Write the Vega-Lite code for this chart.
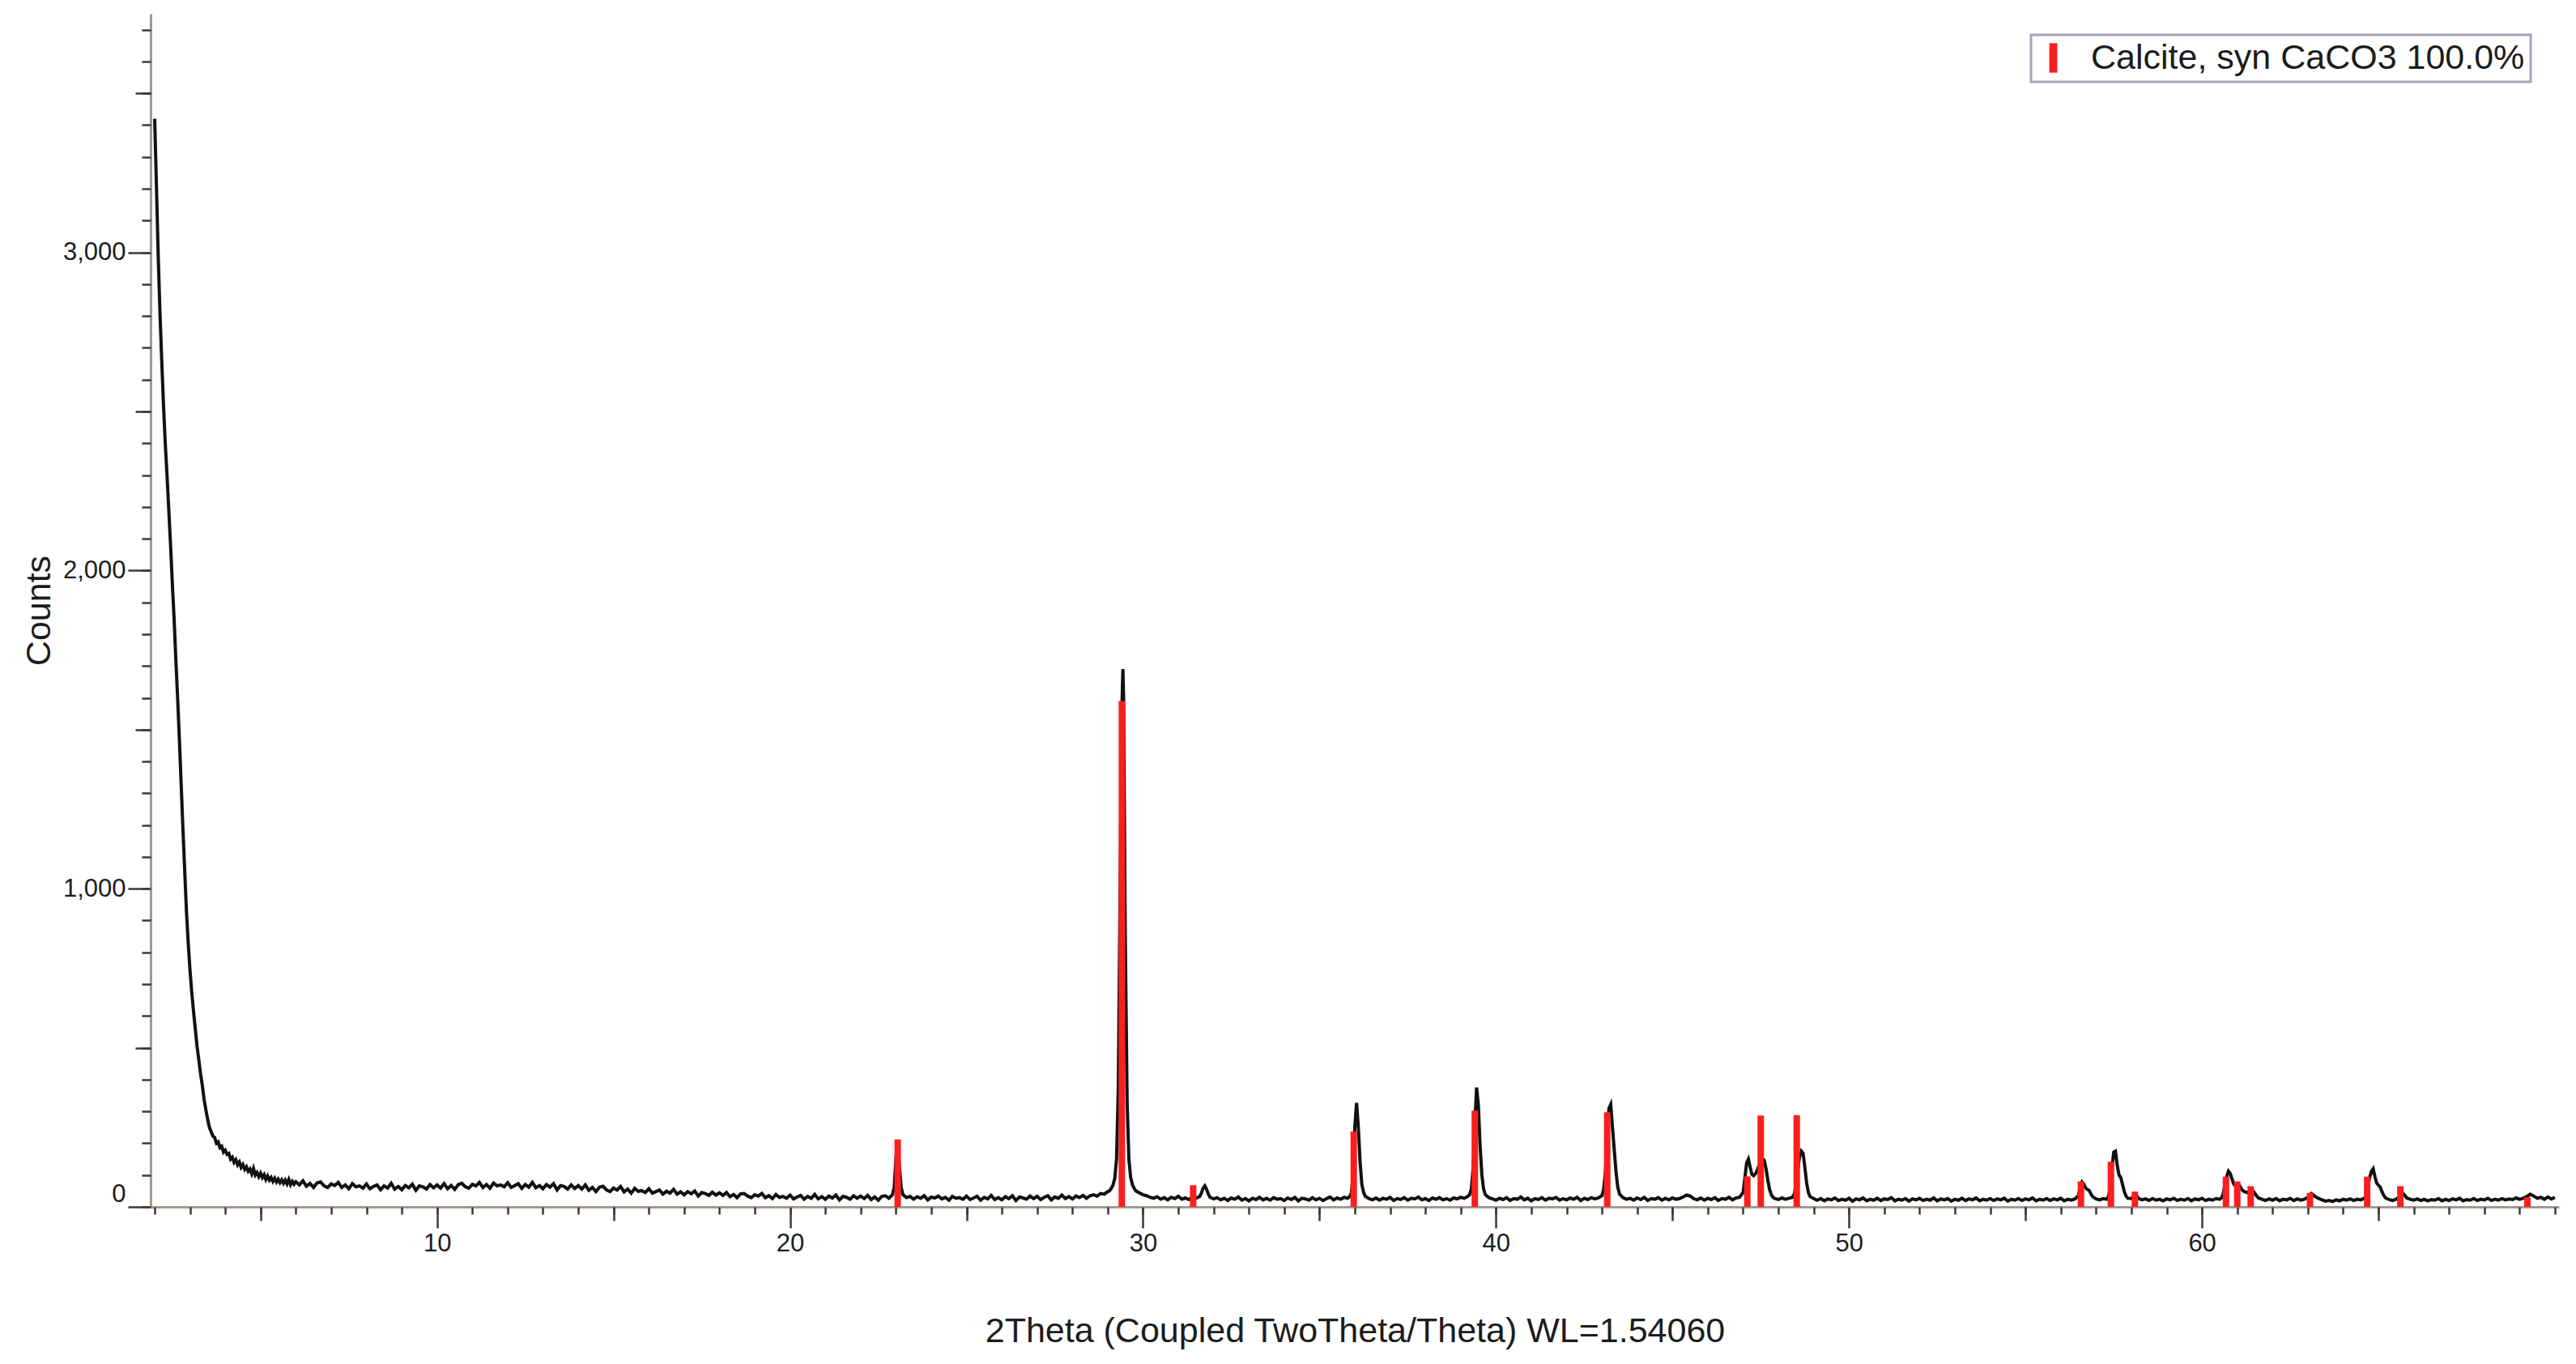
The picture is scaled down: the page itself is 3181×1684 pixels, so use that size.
{
"$schema": "https://vega.github.io/schema/vega-lite/v6.json",
"width": 2974,
"height": 1473,
"autosize": {"type": "none"},
"padding": {"left": 186, "top": 17, "right": 21, "bottom": 194},
"background": "#ffffff",
"config": {
  "view": {"stroke": null},
  "font": "Liberation Sans",
  "axis": {"grid": false, "labelFont": "Liberation Sans", "titleFont": "Liberation Sans", "tickColor": "#3a3a3a", "tickWidth": 2.5, "domainColor": "#a59791", "domainWidth": 3, "labelColor": "#1c1c1c", "titleColor": "#1c1c1c", "titleFontWeight": "normal"},
  "legend": {"labelFont": "Liberation Sans", "strokeWidth": 3}
},
"datasets": {
"scan": [
{"two_theta":2.0,"counts":3420},{"two_theta":2.05,"counts":3210},{"two_theta":2.1,"counts":2990},{"two_theta":2.15,"counts":2810},{"two_theta":2.2,"counts":2660},{"two_theta":2.25,"counts":2520},{"two_theta":2.3,"counts":2400},{"two_theta":2.35,"counts":2300},{"two_theta":2.4,"counts":2190},{"two_theta":2.45,"counts":2080},{"two_theta":2.5,"counts":1960},{"two_theta":2.55,"counts":1850},{"two_theta":2.6,"counts":1720},{"two_theta":2.65,"counts":1600},{"two_theta":2.7,"counts":1470},{"two_theta":2.75,"counts":1330},{"two_theta":2.8,"counts":1190},{"two_theta":2.85,"counts":1060},{"two_theta":2.9,"counts":930},{"two_theta":2.95,"counts":830},{"two_theta":3.0,"counts":745},{"two_theta":3.05,"counts":675},{"two_theta":3.1,"counts":615},{"two_theta":3.15,"counts":560},{"two_theta":3.2,"counts":505},{"two_theta":3.25,"counts":462},{"two_theta":3.3,"counts":418},{"two_theta":3.35,"counts":382},{"two_theta":3.4,"counts":338},{"two_theta":3.45,"counts":305},{"two_theta":3.5,"counts":276},{"two_theta":3.55,"counts":250},{"two_theta":3.6,"counts":236},
{"two_theta":3.65,"counts":222},{"two_theta":3.7,"counts":218},{"two_theta":3.75,"counts":200},{"two_theta":3.8,"counts":204},{"two_theta":3.85,"counts":186},{"two_theta":3.9,"counts":190},{"two_theta":3.95,"counts":172},{"two_theta":4.0,"counts":178},{"two_theta":4.05,"counts":165},{"two_theta":4.1,"counts":168},{"two_theta":4.15,"counts":150},{"two_theta":4.2,"counts":156},{"two_theta":4.25,"counts":140},{"two_theta":4.3,"counts":148},{"two_theta":4.35,"counts":132},{"two_theta":4.4,"counts":141},{"two_theta":4.45,"counts":124},{"two_theta":4.5,"counts":133},{"two_theta":4.55,"counts":118},{"two_theta":4.6,"counts":126},{"two_theta":4.65,"counts":112},{"two_theta":4.7,"counts":119},{"two_theta":4.75,"counts":104},{"two_theta":4.8,"counts":121},{"two_theta":4.85,"counts":100},{"two_theta":4.9,"counts":108},{"two_theta":4.95,"counts":95},{"two_theta":5.0,"counts":106},{"two_theta":5.05,"counts":92},{"two_theta":5.1,"counts":101},{"two_theta":5.15,"counts":86},{"two_theta":5.2,"counts":97},{"two_theta":5.25,"counts":84},{"two_theta":5.3,"counts":92},{"two_theta":5.35,"counts":80},{"two_theta":5.4,"counts":90},{"two_theta":5.45,"counts":78},{"two_theta":5.5,"counts":87},{"two_theta":5.55,"counts":76},{"two_theta":5.6,"counts":85},{"two_theta":5.65,"counts":74},{"two_theta":5.7,"counts":84},{"two_theta":5.75,"counts":72},{"two_theta":5.8,"counts":86},{"two_theta":5.85,"counts":70},{"two_theta":5.9,"counts":80},{"two_theta":5.95,"counts":71},{"two_theta":6.0,"counts":79},
{"two_theta":6.1,"counts":69},{"two_theta":6.2,"counts":82},{"two_theta":6.3,"counts":65},{"two_theta":6.4,"counts":74},{"two_theta":6.5,"counts":61},{"two_theta":6.6,"counts":75},{"two_theta":6.7,"counts":78},{"two_theta":6.8,"counts":66},{"two_theta":6.9,"counts":61},{"two_theta":7.0,"counts":72},{"two_theta":7.1,"counts":67},{"two_theta":7.2,"counts":77},{"two_theta":7.3,"counts":61},{"two_theta":7.4,"counts":69},{"two_theta":7.5,"counts":57},{"two_theta":7.6,"counts":73},{"two_theta":7.7,"counts":63},{"two_theta":7.8,"counts":66},{"two_theta":7.9,"counts":59},{"two_theta":8.0,"counts":72},{"two_theta":8.1,"counts":57},{"two_theta":8.2,"counts":64},{"two_theta":8.3,"counts":69},{"two_theta":8.4,"counts":54},{"two_theta":8.5,"counts":66},{"two_theta":8.6,"counts":59},{"two_theta":8.7,"counts":74},{"two_theta":8.8,"counts":56},{"two_theta":8.9,"counts":64},{"two_theta":9.0,"counts":54},{"two_theta":9.1,"counts":67},{"two_theta":9.2,"counts":60},{"two_theta":9.3,"counts":71},{"two_theta":9.4,"counts":52},{"two_theta":9.5,"counts":66},{"two_theta":9.6,"counts":63},{"two_theta":9.7,"counts":56},{"two_theta":9.8,"counts":70},{"two_theta":9.9,"counts":60},{"two_theta":10.0,"counts":69},{"two_theta":10.1,"counts":59},{"two_theta":10.2,"counts":73},{"two_theta":10.3,"counts":57},{"two_theta":10.4,"counts":67},{"two_theta":10.5,"counts":55},{"two_theta":10.6,"counts":70},{"two_theta":10.7,"counts":74},{"two_theta":10.8,"counts":63},{"two_theta":10.9,"counts":59},{"two_theta":11.0,"counts":71},{"two_theta":11.1,"counts":66},{"two_theta":11.2,"counts":77},{"two_theta":11.3,"counts":61},{"two_theta":11.4,"counts":70},{"two_theta":11.5,"counts":59},{"two_theta":11.6,"counts":75},{"two_theta":11.7,"counts":66},{"two_theta":11.8,"counts":69},{"two_theta":11.9,"counts":63},{"two_theta":12.0,"counts":76},{"two_theta":12.1,"counts":61},{"two_theta":12.2,"counts":67},{"two_theta":12.3,"counts":73},{"two_theta":12.4,"counts":58},{"two_theta":12.5,"counts":70},{"two_theta":12.6,"counts":62},{"two_theta":12.7,"counts":77},{"two_theta":12.8,"counts":60},{"two_theta":12.9,"counts":67},{"two_theta":13.0,"counts":57},{"two_theta":13.1,"counts":70},{"two_theta":13.2,"counts":62},{"two_theta":13.3,"counts":73},{"two_theta":13.4,"counts":53},{"two_theta":13.5,"counts":67},{"two_theta":13.6,"counts":64},{"two_theta":13.7,"counts":56},{"two_theta":13.8,"counts":69},{"two_theta":13.9,"counts":58},{"two_theta":14.0,"counts":67},{"two_theta":14.1,"counts":56},{"two_theta":14.2,"counts":69},{"two_theta":14.3,"counts":52},{"two_theta":14.4,"counts":61},{"two_theta":14.5,"counts":48},{"two_theta":14.6,"counts":62},{"two_theta":14.7,"counts":65},{"two_theta":14.8,"counts":53},{"two_theta":14.9,"counts":48},{"two_theta":15.0,"counts":59},{"two_theta":15.1,"counts":53},{"two_theta":15.2,"counts":64},{"two_theta":15.3,"counts":47},{"two_theta":15.4,"counts":56},{"two_theta":15.5,"counts":43},{"two_theta":15.6,"counts":58},{"two_theta":15.7,"counts":49},{"two_theta":15.8,"counts":51},{"two_theta":15.9,"counts":45},{"two_theta":16.0,"counts":57},
{"two_theta":16.1,"counts":43},{"two_theta":16.2,"counts":48},{"two_theta":16.3,"counts":53},{"two_theta":16.4,"counts":40},{"two_theta":16.5,"counts":49},{"two_theta":16.6,"counts":43},{"two_theta":16.7,"counts":55},{"two_theta":16.8,"counts":40},{"two_theta":16.9,"counts":47},{"two_theta":17.0,"counts":38},{"two_theta":17.1,"counts":48},{"two_theta":17.2,"counts":41},{"two_theta":17.3,"counts":50},{"two_theta":17.4,"counts":34},{"two_theta":17.5,"counts":45},{"two_theta":17.6,"counts":42},{"two_theta":17.7,"counts":36},{"two_theta":17.8,"counts":46},{"two_theta":17.9,"counts":37},{"two_theta":18.0,"counts":44},{"two_theta":18.1,"counts":36},{"two_theta":18.2,"counts":45},{"two_theta":18.3,"counts":32},{"two_theta":18.4,"counts":39},{"two_theta":18.5,"counts":29},{"two_theta":18.6,"counts":41},{"two_theta":18.7,"counts":42},{"two_theta":18.8,"counts":34},{"two_theta":18.9,"counts":29},{"two_theta":19.0,"counts":38},{"two_theta":19.1,"counts":34},{"two_theta":19.2,"counts":42},{"two_theta":19.3,"counts":29},{"two_theta":19.4,"counts":35},{"two_theta":19.5,"counts":26},{"two_theta":19.6,"counts":39},{"two_theta":19.7,"counts":30},{"two_theta":19.8,"counts":33},{"two_theta":19.9,"counts":27},{"two_theta":20.0,"counts":37},{"two_theta":20.1,"counts":25},{"two_theta":20.2,"counts":31},{"two_theta":20.3,"counts":36},{"two_theta":20.4,"counts":24},{"two_theta":20.5,"counts":33},{"two_theta":20.6,"counts":27},{"two_theta":20.7,"counts":39},{"two_theta":20.8,"counts":25},{"two_theta":20.9,"counts":32},{"two_theta":21.0,"counts":24},{"two_theta":21.1,"counts":34},{"two_theta":21.2,"counts":28},{"two_theta":21.3,"counts":37},{"two_theta":21.4,"counts":22},{"two_theta":21.5,"counts":33},{"two_theta":21.6,"counts":30},{"two_theta":21.7,"counts":24},{"two_theta":21.8,"counts":35},{"two_theta":21.9,"counts":27},{"two_theta":22.0,"counts":34},{"two_theta":22.1,"counts":26},{"two_theta":22.2,"counts":36},{"two_theta":22.3,"counts":23},{"two_theta":22.4,"counts":31},{"two_theta":22.5,"counts":21},{"two_theta":22.6,"counts":33},{"two_theta":22.7,"counts":35},{"two_theta":22.8,"counts":27},
{"two_theta":22.9,"counts":38},{"two_theta":22.95,"counts":60},{"two_theta":23.0,"counts":150},{"two_theta":23.05,"counts":205},{"two_theta":23.1,"counts":125},{"two_theta":23.15,"counts":60},{"two_theta":23.2,"counts":38},{"two_theta":23.3,"counts":29},{"two_theta":23.4,"counts":33},
{"two_theta":23.5,"counts":24},{"two_theta":23.6,"counts":32},{"two_theta":23.7,"counts":27},{"two_theta":23.8,"counts":35},{"two_theta":23.9,"counts":22},{"two_theta":24.0,"counts":31},{"two_theta":24.1,"counts":28},{"two_theta":24.2,"counts":34},{"two_theta":24.3,"counts":25},{"two_theta":24.4,"counts":30},{"two_theta":24.5,"counts":21},{"two_theta":24.6,"counts":33},{"two_theta":24.7,"counts":27},{"two_theta":24.8,"counts":29},{"two_theta":24.9,"counts":24},{"two_theta":25.0,"counts":34},{"two_theta":25.1,"counts":23},{"two_theta":25.2,"counts":28},{"two_theta":25.3,"counts":33},{"two_theta":25.4,"counts":21},{"two_theta":25.5,"counts":30},{"two_theta":25.6,"counts":25},{"two_theta":25.7,"counts":36},{"two_theta":25.8,"counts":23},{"two_theta":25.9,"counts":29},{"two_theta":26.0,"counts":22},{"two_theta":26.1,"counts":32},{"two_theta":26.2,"counts":26},{"two_theta":26.3,"counts":35},{"two_theta":26.4,"counts":20},{"two_theta":26.5,"counts":31},{"two_theta":26.6,"counts":28},{"two_theta":26.7,"counts":24},{"two_theta":26.8,"counts":34},{"two_theta":26.9,"counts":26},{"two_theta":27.0,"counts":33},{"two_theta":27.1,"counts":23},{"two_theta":27.2,"counts":30},{"two_theta":27.3,"counts":35},{"two_theta":27.4,"counts":22},{"two_theta":27.5,"counts":31},{"two_theta":27.6,"counts":27},{"two_theta":27.7,"counts":37},{"two_theta":27.8,"counts":26},{"two_theta":27.9,"counts":32},{"two_theta":28.0,"counts":25},{"two_theta":28.1,"counts":34},{"two_theta":28.2,"counts":29},{"two_theta":28.3,"counts":36},{"two_theta":28.4,"counts":27},{"two_theta":28.5,"counts":35},
{"two_theta":28.6,"counts":38},{"two_theta":28.7,"counts":34},{"two_theta":28.8,"counts":42},{"two_theta":28.9,"counts":40},{"two_theta":29.0,"counts":48},{"two_theta":29.05,"counts":50},{"two_theta":29.1,"counts":58},{"two_theta":29.15,"counts":68},{"two_theta":29.2,"counts":90},{"two_theta":29.25,"counts":150},{"two_theta":29.3,"counts":380},{"two_theta":29.35,"counts":980},{"two_theta":29.4,"counts":1560},{"two_theta":29.43,"counts":1690},{"two_theta":29.45,"counts":1600},{"two_theta":29.5,"counts":820},{"two_theta":29.55,"counts":330},{"two_theta":29.6,"counts":150},{"two_theta":29.65,"counts":92},{"two_theta":29.7,"counts":70},{"two_theta":29.75,"counts":58},{"two_theta":29.8,"counts":50},{"two_theta":29.9,"counts":44},{"two_theta":30.0,"counts":38},{"two_theta":30.1,"counts":35},{"two_theta":30.2,"counts":30},
{"two_theta":30.3,"counts":27},{"two_theta":30.4,"counts":32},{"two_theta":30.5,"counts":24},{"two_theta":30.6,"counts":29},{"two_theta":30.7,"counts":22},{"two_theta":30.8,"counts":30},{"two_theta":30.9,"counts":26},{"two_theta":31.0,"counts":33},{"two_theta":31.1,"counts":24},{"two_theta":31.2,"counts":28},{"two_theta":31.3,"counts":23},{"two_theta":31.4,"counts":30},{"two_theta":31.5,"counts":27},{"two_theta":31.6,"counts":32},{"two_theta":31.65,"counts":42},{"two_theta":31.7,"counts":58},{"two_theta":31.75,"counts":66},{"two_theta":31.8,"counts":56},{"two_theta":31.85,"counts":40},{"two_theta":31.9,"counts":30},{"two_theta":32.0,"counts":25},
{"two_theta":32.1,"counts":29},{"two_theta":32.2,"counts":22},{"two_theta":32.3,"counts":27},{"two_theta":32.4,"counts":20},{"two_theta":32.5,"counts":28},{"two_theta":32.6,"counts":24},{"two_theta":32.7,"counts":31},{"two_theta":32.8,"counts":21},{"two_theta":32.9,"counts":26},{"two_theta":33.0,"counts":19},{"two_theta":33.1,"counts":27},{"two_theta":33.2,"counts":23},{"two_theta":33.3,"counts":30},{"two_theta":33.4,"counts":22},{"two_theta":33.5,"counts":27},{"two_theta":33.6,"counts":21},{"two_theta":33.7,"counts":29},{"two_theta":33.8,"counts":24},{"two_theta":33.9,"counts":26},{"two_theta":34.0,"counts":20},{"two_theta":34.1,"counts":28},{"two_theta":34.2,"counts":23},{"two_theta":34.3,"counts":30},{"two_theta":34.4,"counts":19},{"two_theta":34.5,"counts":27},{"two_theta":34.6,"counts":25},{"two_theta":34.7,"counts":21},{"two_theta":34.8,"counts":29},{"two_theta":34.9,"counts":22},{"two_theta":35.0,"counts":27},{"two_theta":35.1,"counts":20},{"two_theta":35.2,"counts":26},{"two_theta":35.3,"counts":31},{"two_theta":35.4,"counts":22},{"two_theta":35.5,"counts":28},{"two_theta":35.6,"counts":24},{"two_theta":35.7,"counts":30},{"two_theta":35.8,"counts":27},{"two_theta":35.85,"counts":32},{"two_theta":35.9,"counts":42},{"two_theta":35.95,"counts":95},{"two_theta":36.0,"counts":250},{"two_theta":36.05,"counts":327},{"two_theta":36.1,"counts":250},{"two_theta":36.15,"counts":140},{"two_theta":36.2,"counts":70},{"two_theta":36.25,"counts":45},{"two_theta":36.3,"counts":33},{"two_theta":36.4,"counts":26},
{"two_theta":36.5,"counts":22},{"two_theta":36.6,"counts":28},{"two_theta":36.7,"counts":21},{"two_theta":36.8,"counts":27},{"two_theta":36.9,"counts":24},{"two_theta":37.0,"counts":30},{"two_theta":37.1,"counts":20},{"two_theta":37.2,"counts":26},{"two_theta":37.3,"counts":23},{"two_theta":37.4,"counts":29},{"two_theta":37.5,"counts":21},{"two_theta":37.6,"counts":27},{"two_theta":37.7,"counts":25},{"two_theta":37.8,"counts":31},{"two_theta":37.9,"counts":22},{"two_theta":38.0,"counts":26},{"two_theta":38.1,"counts":20},{"two_theta":38.2,"counts":28},{"two_theta":38.3,"counts":24},{"two_theta":38.4,"counts":29},{"two_theta":38.5,"counts":22},{"two_theta":38.6,"counts":26},{"two_theta":38.7,"counts":21},{"two_theta":38.8,"counts":28},{"two_theta":38.9,"counts":25},{"two_theta":39.0,"counts":30},{"two_theta":39.1,"counts":27},{"two_theta":39.2,"counts":33},{"two_theta":39.25,"counts":38},{"two_theta":39.3,"counts":55},{"two_theta":39.35,"counts":120},{"two_theta":39.4,"counts":260},{"two_theta":39.45,"counts":375},{"two_theta":39.5,"counts":320},{"two_theta":39.55,"counts":190},{"two_theta":39.6,"counts":100},{"two_theta":39.65,"counts":55},{"two_theta":39.7,"counts":38},{"two_theta":39.8,"counts":29},{"two_theta":39.9,"counts":25},
{"two_theta":40.0,"counts":21},{"two_theta":40.1,"counts":27},{"two_theta":40.2,"counts":23},{"two_theta":40.3,"counts":29},{"two_theta":40.4,"counts":20},{"two_theta":40.5,"counts":26},{"two_theta":40.6,"counts":24},{"two_theta":40.7,"counts":31},{"two_theta":40.8,"counts":22},{"two_theta":40.9,"counts":27},{"two_theta":41.0,"counts":19},{"two_theta":41.1,"counts":26},{"two_theta":41.2,"counts":23},{"two_theta":41.3,"counts":29},{"two_theta":41.4,"counts":21},{"two_theta":41.5,"counts":27},{"two_theta":41.6,"counts":25},{"two_theta":41.7,"counts":30},{"two_theta":41.8,"counts":21},{"two_theta":41.9,"counts":26},{"two_theta":42.0,"counts":22},{"two_theta":42.1,"counts":28},{"two_theta":42.2,"counts":24},{"two_theta":42.3,"counts":30},{"two_theta":42.4,"counts":20},{"two_theta":42.5,"counts":27},{"two_theta":42.6,"counts":23},{"two_theta":42.7,"counts":29},{"two_theta":42.8,"counts":25},{"two_theta":42.9,"counts":28},{"two_theta":43.0,"counts":35},{"two_theta":43.05,"counts":55},{"two_theta":43.1,"counts":110},{"two_theta":43.15,"counts":220},{"two_theta":43.2,"counts":310},{"two_theta":43.25,"counts":322},{"two_theta":43.3,"counts":250},{"two_theta":43.35,"counts":180},{"two_theta":43.4,"counts":110},{"two_theta":43.45,"counts":62},{"two_theta":43.5,"counts":40},{"two_theta":43.6,"counts":29},{"two_theta":43.7,"counts":24},
{"two_theta":43.8,"counts":27},{"two_theta":43.9,"counts":21},{"two_theta":44.0,"counts":28},{"two_theta":44.1,"counts":23},{"two_theta":44.2,"counts":30},{"two_theta":44.3,"counts":20},{"two_theta":44.4,"counts":26},{"two_theta":44.5,"counts":24},{"two_theta":44.6,"counts":29},{"two_theta":44.7,"counts":21},{"two_theta":44.8,"counts":27},{"two_theta":44.9,"counts":22},{"two_theta":45.0,"counts":28},{"two_theta":45.1,"counts":24},{"two_theta":45.2,"counts":26},{"two_theta":45.3,"counts":31},{"two_theta":45.4,"counts":37},{"two_theta":45.5,"counts":34},{"two_theta":45.6,"counts":26},{"two_theta":45.7,"counts":22},{"two_theta":45.8,"counts":28},{"two_theta":45.9,"counts":21},{"two_theta":46.0,"counts":27},{"two_theta":46.1,"counts":23},{"two_theta":46.2,"counts":29},{"two_theta":46.3,"counts":20},{"two_theta":46.4,"counts":26},{"two_theta":46.5,"counts":24},{"two_theta":46.6,"counts":30},{"two_theta":46.7,"counts":22},{"two_theta":46.8,"counts":28},{"two_theta":46.9,"counts":30},{"two_theta":47.0,"counts":45},{"two_theta":47.05,"counts":90},{"two_theta":47.1,"counts":138},{"two_theta":47.15,"counts":150},{"two_theta":47.2,"counts":125},{"two_theta":47.25,"counts":102},{"two_theta":47.3,"counts":98},{"two_theta":47.35,"counts":104},{"two_theta":47.4,"counts":115},{"two_theta":47.45,"counts":130},{"two_theta":47.5,"counts":144},{"two_theta":47.55,"counts":152},{"two_theta":47.6,"counts":146},{"two_theta":47.65,"counts":120},{"two_theta":47.7,"counts":85},{"two_theta":47.75,"counts":55},{"two_theta":47.8,"counts":38},{"two_theta":47.85,"counts":30},{"two_theta":47.9,"counts":26},{"two_theta":48.0,"counts":23},{"two_theta":48.1,"counts":28},{"two_theta":48.2,"counts":24},{"two_theta":48.3,"counts":27},{"two_theta":48.4,"counts":30},{"two_theta":48.45,"counts":40},{"two_theta":48.5,"counts":70},{"two_theta":48.55,"counts":118},{"two_theta":48.6,"counts":158},{"two_theta":48.65,"counts":175},{"two_theta":48.7,"counts":168},{"two_theta":48.75,"counts":125},{"two_theta":48.8,"counts":75},{"two_theta":48.85,"counts":45},{"two_theta":48.9,"counts":32},{"two_theta":49.0,"counts":26},
{"two_theta":49.1,"counts":21},{"two_theta":49.2,"counts":26},{"two_theta":49.3,"counts":19},{"two_theta":49.4,"counts":25},{"two_theta":49.5,"counts":22},{"two_theta":49.6,"counts":28},{"two_theta":49.7,"counts":20},{"two_theta":49.8,"counts":24},{"two_theta":49.9,"counts":21},{"two_theta":50.0,"counts":27},{"two_theta":50.1,"counts":18},{"two_theta":50.2,"counts":25},{"two_theta":50.3,"counts":22},{"two_theta":50.4,"counts":28},{"two_theta":50.5,"counts":19},{"two_theta":50.6,"counts":24},{"two_theta":50.7,"counts":21},{"two_theta":50.8,"counts":27},{"two_theta":50.9,"counts":20},{"two_theta":51.0,"counts":25},{"two_theta":51.1,"counts":23},{"two_theta":51.2,"counts":29},{"two_theta":51.3,"counts":19},{"two_theta":51.4,"counts":24},{"two_theta":51.5,"counts":21},{"two_theta":51.6,"counts":26},{"two_theta":51.7,"counts":18},{"two_theta":51.8,"counts":25},{"two_theta":51.9,"counts":22},{"two_theta":52.0,"counts":27},{"two_theta":52.1,"counts":20},{"two_theta":52.2,"counts":24},{"two_theta":52.3,"counts":21},{"two_theta":52.4,"counts":28},{"two_theta":52.5,"counts":19},{"two_theta":52.6,"counts":25},{"two_theta":52.7,"counts":22},{"two_theta":52.8,"counts":26},{"two_theta":52.9,"counts":18},{"two_theta":53.0,"counts":24},{"two_theta":53.1,"counts":21},{"two_theta":53.2,"counts":27},{"two_theta":53.3,"counts":20},{"two_theta":53.4,"counts":25},{"two_theta":53.5,"counts":22},{"two_theta":53.6,"counts":28},{"two_theta":53.7,"counts":19},{"two_theta":53.8,"counts":24},{"two_theta":53.9,"counts":21},{"two_theta":54.0,"counts":26},{"two_theta":54.1,"counts":20},{"two_theta":54.2,"counts":25},{"two_theta":54.3,"counts":22},{"two_theta":54.4,"counts":27},{"two_theta":54.5,"counts":18},{"two_theta":54.6,"counts":24},{"two_theta":54.7,"counts":21},{"two_theta":54.8,"counts":26},{"two_theta":54.9,"counts":20},{"two_theta":55.0,"counts":25},{"two_theta":55.1,"counts":22},{"two_theta":55.2,"counts":28},{"two_theta":55.3,"counts":19},{"two_theta":55.4,"counts":24},{"two_theta":55.5,"counts":21},{"two_theta":55.6,"counts":26},{"two_theta":55.7,"counts":20},{"two_theta":55.8,"counts":25},{"two_theta":55.9,"counts":22},{"two_theta":56.0,"counts":27},{"two_theta":56.1,"counts":19},{"two_theta":56.2,"counts":24},{"two_theta":56.3,"counts":21},{"two_theta":56.4,"counts":25},{"two_theta":56.5,"counts":35},{"two_theta":56.55,"counts":62},{"two_theta":56.6,"counts":78},{"two_theta":56.65,"counts":72},{"two_theta":56.7,"counts":60},{"two_theta":56.75,"counts":55},{"two_theta":56.8,"counts":52},{"two_theta":56.85,"counts":42},{"two_theta":56.9,"counts":32},{"two_theta":57.0,"counts":25},{"two_theta":57.1,"counts":22},{"two_theta":57.2,"counts":26},{"two_theta":57.3,"counts":24},{"two_theta":57.35,"counts":32},{"two_theta":57.4,"counts":60},{"two_theta":57.45,"counts":120},{"two_theta":57.5,"counts":172},{"two_theta":57.55,"counts":175},{"two_theta":57.6,"counts":130},{"two_theta":57.65,"counts":100},{"two_theta":57.7,"counts":92},{"two_theta":57.75,"counts":70},{"two_theta":57.8,"counts":48},{"two_theta":57.85,"counts":34},{"two_theta":57.9,"counts":27},{"two_theta":58.0,"counts":26},{"two_theta":58.05,"counts":32},{"two_theta":58.1,"counts":40},{"two_theta":58.15,"counts":36},{"two_theta":58.2,"counts":27},{"two_theta":58.3,"counts":22},
{"two_theta":58.4,"counts":25},{"two_theta":58.5,"counts":20},{"two_theta":58.6,"counts":26},{"two_theta":58.7,"counts":21},{"two_theta":58.8,"counts":24},{"two_theta":58.9,"counts":19},{"two_theta":59.0,"counts":25},{"two_theta":59.1,"counts":22},{"two_theta":59.2,"counts":27},{"two_theta":59.3,"counts":20},{"two_theta":59.4,"counts":24},{"two_theta":59.5,"counts":21},{"two_theta":59.6,"counts":26},{"two_theta":59.7,"counts":19},{"two_theta":59.8,"counts":25},{"two_theta":59.9,"counts":22},{"two_theta":60.0,"counts":27},{"two_theta":60.1,"counts":20},{"two_theta":60.2,"counts":24},{"two_theta":60.3,"counts":21},{"two_theta":60.4,"counts":26},{"two_theta":60.5,"counts":24},{"two_theta":60.55,"counts":28},{"two_theta":60.6,"counts":40},{"two_theta":60.65,"counts":70},{"two_theta":60.7,"counts":95},{"two_theta":60.75,"counts":112},{"two_theta":60.8,"counts":105},{"two_theta":60.85,"counts":88},{"two_theta":60.9,"counts":72},{"two_theta":60.95,"counts":66},{"two_theta":61.0,"counts":68},{"two_theta":61.05,"counts":70},{"two_theta":61.1,"counts":60},{"two_theta":61.15,"counts":52},{"two_theta":61.2,"counts":48},{"two_theta":61.25,"counts":46},{"two_theta":61.3,"counts":44},{"two_theta":61.35,"counts":48},{"two_theta":61.4,"counts":52},{"two_theta":61.45,"counts":50},{"two_theta":61.5,"counts":42},{"two_theta":61.55,"counts":34},{"two_theta":61.6,"counts":28},{"two_theta":61.7,"counts":24},{"two_theta":61.8,"counts":20},
{"two_theta":61.9,"counts":25},{"two_theta":62.0,"counts":21},{"two_theta":62.1,"counts":26},{"two_theta":62.2,"counts":19},{"two_theta":62.3,"counts":24},{"two_theta":62.4,"counts":22},{"two_theta":62.5,"counts":27},{"two_theta":62.6,"counts":20},{"two_theta":62.7,"counts":25},{"two_theta":62.8,"counts":21},{"two_theta":62.9,"counts":24},{"two_theta":63.0,"counts":30},{"two_theta":63.05,"counts":38},{"two_theta":63.1,"counts":42},{"two_theta":63.15,"counts":38},{"two_theta":63.2,"counts":33},{"two_theta":63.3,"counts":27},{"two_theta":63.4,"counts":22},{"two_theta":63.5,"counts":18},{"two_theta":63.6,"counts":20},{"two_theta":63.7,"counts":17},{"two_theta":63.8,"counts":22},{"two_theta":63.9,"counts":19},{"two_theta":64.0,"counts":24},{"two_theta":64.1,"counts":21},{"two_theta":64.2,"counts":25},{"two_theta":64.3,"counts":20},{"two_theta":64.4,"counts":24},{"two_theta":64.5,"counts":22},{"two_theta":64.6,"counts":27},{"two_theta":64.65,"counts":35},{"two_theta":64.7,"counts":62},{"two_theta":64.75,"counts":92},{"two_theta":64.8,"counts":112},{"two_theta":64.85,"counts":120},{"two_theta":64.9,"counts":95},{"two_theta":64.95,"counts":75},{"two_theta":65.0,"counts":68},{"two_theta":65.05,"counts":62},{"two_theta":65.1,"counts":48},{"two_theta":65.15,"counts":36},{"two_theta":65.2,"counts":28},{"two_theta":65.3,"counts":23},{"two_theta":65.4,"counts":20},{"two_theta":65.5,"counts":24},{"two_theta":65.6,"counts":32},{"two_theta":65.65,"counts":40},{"two_theta":65.7,"counts":42},{"two_theta":65.75,"counts":36},{"two_theta":65.8,"counts":28},{"two_theta":65.9,"counts":24},
{"two_theta":66.0,"counts":21},{"two_theta":66.1,"counts":25},{"two_theta":66.2,"counts":20},{"two_theta":66.3,"counts":24},{"two_theta":66.4,"counts":19},{"two_theta":66.5,"counts":23},{"two_theta":66.6,"counts":21},{"two_theta":66.7,"counts":26},{"two_theta":66.8,"counts":19},{"two_theta":66.9,"counts":24},{"two_theta":67.0,"counts":20},{"two_theta":67.1,"counts":25},{"two_theta":67.2,"counts":22},{"two_theta":67.3,"counts":27},{"two_theta":67.4,"counts":19},{"two_theta":67.5,"counts":23},{"two_theta":67.6,"counts":21},{"two_theta":67.7,"counts":26},{"two_theta":67.8,"counts":20},{"two_theta":67.9,"counts":24},{"two_theta":68.0,"counts":22},{"two_theta":68.1,"counts":27},{"two_theta":68.2,"counts":20},{"two_theta":68.3,"counts":24},{"two_theta":68.4,"counts":21},{"two_theta":68.5,"counts":26},{"two_theta":68.6,"counts":22},{"two_theta":68.7,"counts":25},{"two_theta":68.8,"counts":23},{"two_theta":68.9,"counts":28},{"two_theta":69.0,"counts":24},{"two_theta":69.1,"counts":27},{"two_theta":69.2,"counts":32},{"two_theta":69.3,"counts":40},{"two_theta":69.4,"counts":34},{"two_theta":69.5,"counts":27},{"two_theta":69.6,"counts":30},{"two_theta":69.7,"counts":24},{"two_theta":69.8,"counts":31},{"two_theta":69.9,"counts":25},{"two_theta":70.0,"counts":30}
],
"sticks": [
{"two_theta":23.05,"intensity":212,"phase":"Calcite, syn CaCO3 100.0%"},
{"two_theta":29.4,"intensity":1590,"phase":"Calcite, syn CaCO3 100.0%"},
{"two_theta":31.42,"intensity":68,"phase":"Calcite, syn CaCO3 100.0%"},
{"two_theta":35.97,"intensity":237,"phase":"Calcite, syn CaCO3 100.0%"},
{"two_theta":39.4,"intensity":302,"phase":"Calcite, syn CaCO3 100.0%"},
{"two_theta":43.15,"intensity":297,"phase":"Calcite, syn CaCO3 100.0%"},
{"two_theta":47.12,"intensity":96,"phase":"Calcite, syn CaCO3 100.0%"},
{"two_theta":47.5,"intensity":287,"phase":"Calcite, syn CaCO3 100.0%"},
{"two_theta":48.52,"intensity":288,"phase":"Calcite, syn CaCO3 100.0%"},
{"two_theta":56.57,"intensity":80,"phase":"Calcite, syn CaCO3 100.0%"},
{"two_theta":57.42,"intensity":142,"phase":"Calcite, syn CaCO3 100.0%"},
{"two_theta":58.1,"intensity":48,"phase":"Calcite, syn CaCO3 100.0%"},
{"two_theta":60.68,"intensity":95,"phase":"Calcite, syn CaCO3 100.0%"},
{"two_theta":61.0,"intensity":80,"phase":"Calcite, syn CaCO3 100.0%"},
{"two_theta":61.38,"intensity":65,"phase":"Calcite, syn CaCO3 100.0%"},
{"two_theta":63.06,"intensity":44,"phase":"Calcite, syn CaCO3 100.0%"},
{"two_theta":64.68,"intensity":95,"phase":"Calcite, syn CaCO3 100.0%"},
{"two_theta":65.62,"intensity":65,"phase":"Calcite, syn CaCO3 100.0%"},
{"two_theta":69.22,"intensity":30,"phase":"Calcite, syn CaCO3 100.0%"}
]
},
"layer": [
{
  "data": {"name": "scan"},
  "mark": {"type": "line", "color": "#111111", "strokeWidth": 4},
  "encoding": {
    "x": {"field": "two_theta", "type": "quantitative", "scale": {"domain": [2, 70], "nice": false, "zero": false},
      "axis": {"orient": "bottom", "values": [10, 20, 30, 40, 50, 60], "tickSize": 26, "labelFontSize": 31, "labelPadding": 4, "labelFlush": false, "title": "2Theta (Coupled TwoTheta/Theta) WL=1.54060", "titleFontSize": 43, "titlePadding": 72}},
    "y": {"field": "counts", "type": "quantitative", "scale": {"domain": [0, 3750], "nice": false},
      "axis": {"orient": "left", "values": [0, 1000, 2000, 3000], "format": ",.0f", "tickSize": 28, "labelFontSize": 31, "labelPadding": 3, "labelBaseline": {"condition": {"test": "datum.value === 0", "value": "bottom"}, "value": "middle"}, "title": "Counts", "titleFontSize": 43, "titlePadding": 7}}
  }
},
{
  "data": {"name": "sticks"},
  "mark": {"type": "bar", "size": 8},
  "encoding": {
    "x": {"field": "two_theta", "type": "quantitative", "scale": {"domain": [2, 70], "nice": false, "zero": false},
      "axis": {"orient": "bottom", "values": [2,3,4,5,6,7,8,9,10,11,12,13,14,15,16,17,18,19,20,21,22,23,24,25,26,27,28,29,30,31,32,33,34,35,36,37,38,39,40,41,42,43,44,45,46,47,48,49,50,51,52,53,54,55,56,57,58,59,60,61,62,63,64,65,66,67,68,69,70], "tickSize": 9, "labels": false, "domain": false, "title": null}},
    "y": {"field": "intensity", "type": "quantitative", "stack": null, "scale": {"domain": [0, 3750], "nice": false},
      "axis": {"orient": "left", "values": [0,100,200,300,400,500,600,700,800,900,1000,1100,1200,1300,1400,1500,1600,1700,1800,1900,2000,2100,2200,2300,2400,2500,2600,2700,2800,2900,3000,3100,3200,3300,3400,3500,3600,3700], "tickSize": 11, "labels": false, "domain": false, "title": null}},
    "color": {"field": "phase", "type": "nominal", "scale": {"range": ["#fb1e1e"]},
      "legend": {"orient": "none", "legendX": 2322, "legendY": 26, "title": null, "labelFontSize": 43, "labelColor": "#1c1c1c", "labelLimit": 0, "symbolType": "M-0.7,-2.6H0.7V2.6H-0.7Z", "symbolSize": 196, "symbolStrokeWidth": 0, "symbolOffset": -1, "labelOffset": 25, "padding": 7, "strokeColor": "#a3a6ba", "fillColor": "#ffffff"}}
  }
},
{
  "data": {"name": "sticks"},
  "mark": {"type": "point", "opacity": 0},
  "encoding": {
    "x": {"field": "two_theta", "type": "quantitative", "scale": {"domain": [2, 70], "nice": false, "zero": false},
      "axis": {"orient": "bottom", "values": [5, 15, 25, 35, 45, 55, 65], "tickSize": 17, "labels": false, "domain": false, "title": null}},
    "y": {"field": "intensity", "type": "quantitative", "scale": {"domain": [0, 3750], "nice": false},
      "axis": {"orient": "left", "values": [500, 1500, 2500, 3500], "tickSize": 19, "labels": false, "domain": false, "title": null}}
  }
}
],
"resolve": {"axis": {"x": "independent", "y": "independent"}}
}
